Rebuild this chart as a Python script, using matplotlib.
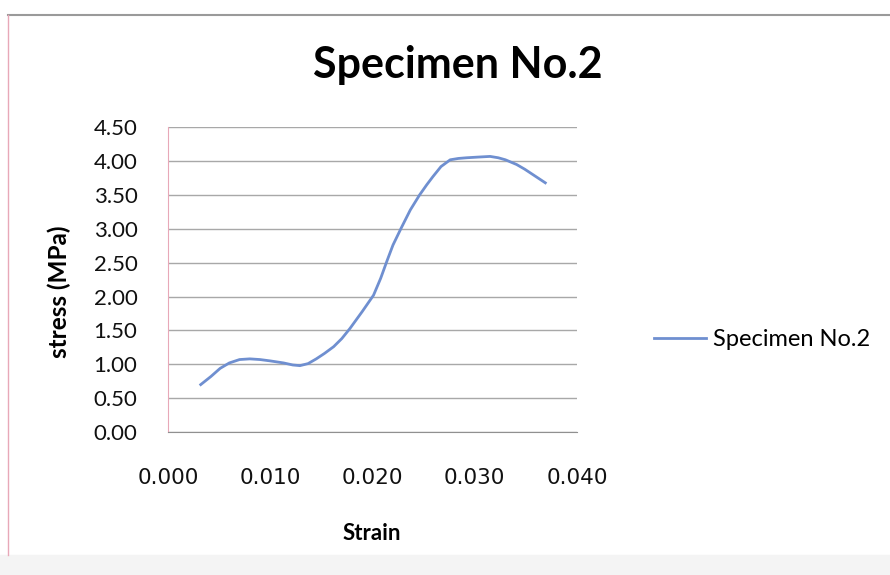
import matplotlib
matplotlib.use("Agg")
import matplotlib.pyplot as plt
from matplotlib.lines import Line2D
from matplotlib.patches import Rectangle

strain = [0.0032, 0.0042, 0.0051, 0.0060, 0.0070, 0.0080, 0.0090, 0.0100, 0.0113,
          0.0122, 0.0129, 0.0137, 0.0145, 0.0153, 0.0162, 0.0170, 0.0178, 0.0190,
          0.0201, 0.0208, 0.0214, 0.0220, 0.0228, 0.0237, 0.0246, 0.0253, 0.0259,
          0.0267, 0.0276, 0.0284, 0.0292, 0.0303, 0.0315, 0.0323, 0.0330, 0.0341,
          0.0349, 0.0357, 0.0369]
stress = [0.70, 0.82, 0.94, 1.02, 1.07, 1.08, 1.07, 1.05, 1.02,
          0.99, 0.98, 1.01, 1.08, 1.16, 1.26, 1.38, 1.53, 1.78,
          2.02, 2.27, 2.52, 2.76, 3.01, 3.28, 3.50, 3.65, 3.77,
          3.92, 4.02, 4.04, 4.05, 4.06, 4.07, 4.05, 4.02, 3.95,
          3.88, 3.80, 3.68]
y_ticks = [0.0, 0.5, 1.0, 1.5, 2.0, 2.5, 3.0, 3.5, 4.0, 4.5]
x_ticks = [0.000, 0.010, 0.020, 0.030, 0.040]
series_name = "Specimen No.2"
title = "Specimen No.2"

plt.rcParams['font.family'] = ['Lato', 'DejaVu Sans']
fig = plt.figure(figsize=(8.9, 5.75), dpi=100)
fig.patch.set_facecolor("white")

# outer chart border
fig.add_artist(Line2D([8/890, 1.0], [1-15/575, 1-15/575], transform=fig.transFigure,
                      color="#9a9a9a", lw=1.5))
fig.add_artist(Line2D([8/890, 8/890], [1-15/575, 1-555/575], transform=fig.transFigure,
                      color="#e8a8b8", lw=1.0))
fig.add_artist(Rectangle((0, 0), 1, 1-555/575, transform=fig.transFigure,
                         color="#f4f4f4", zorder=-5))

ax = fig.add_axes([168/890, 1-432/575, (577-168)/890, (432-127.3)/575])
ax.plot(strain, stress, color="#6f8fd0", lw=2.0, label=series_name, zorder=3,
        solid_joinstyle="round")
ax.set_xlim(0, 0.04)
ax.set_ylim(0, 4.5)
ax.set_yticks(y_ticks)
ax.set_yticklabels([f"{v:.2f}" for v in y_ticks])
ax.set_xticks(x_ticks)
ax.set_xticklabels([f"{v:.3f}" for v in x_ticks], fontfamily="DejaVu Sans", fontsize=15.5)
ax.tick_params(axis="both", length=0, colors="#111111")
ax.tick_params(axis="y", labelsize=16, pad=22)
ax.tick_params(axis="x", pad=26)
ax.grid(axis="y", color="#a8a8a8", lw=1.0)
ax.set_axisbelow(True)
for s in ["top", "right"]:
    ax.spines[s].set_visible(False)
ax.spines["left"].set_color("#e8a8b8")
ax.spines["bottom"].set_color("#909090")

ax.set_xlabel("Strain", fontsize=16, fontweight="bold")
ax.xaxis.set_label_coords((372-168)/409, -(523-432)/304.4)
ax.set_ylabel("stress (MPa)", fontsize=17.5, fontweight="bold")
ax.yaxis.set_label_coords((71-168)/409, (432-292)/304.4)
fig.text(458/890, 1-65/575, title, fontsize=31, fontweight="bold", ha="center", va="center")

fig.legend(handles=[Line2D([], [], color="#6f8fd0", lw=2.0)], labels=[series_name],
           loc="center left", bbox_to_anchor=(633/890, 1-340/575), frameon=False,
           fontsize=17, handlelength=2.2, handletextpad=0.3)

fig.savefig("out.png", dpi=100)
